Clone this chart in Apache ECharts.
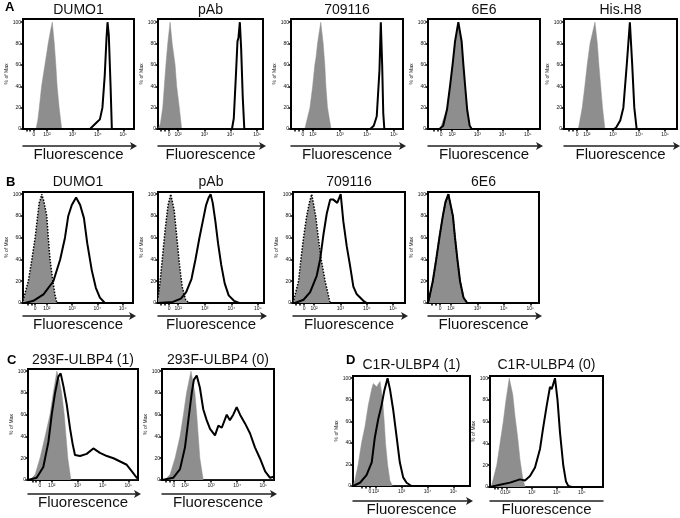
<!DOCTYPE html>
<html><head><meta charset="utf-8">
<script src="https://cdn.jsdelivr.net/npm/echarts@6/dist/echarts.min.js"></script>
<style>html,body{margin:0;padding:0;background:#fff}#c{width:680px;height:518px}</style>
</head><body><div id="c"></div><script>
// ---------- tick labels / titles ----------
const xTickLabels = ['0', '10²', '10³', '10⁴', '10⁵'];
const xTickDecades = [2, 3, 4, 5];          // label positions (log10 units); "0" position is per plot
const yTicks = [0, 20, 40, 60, 80, 100];
const titles = ['DUMO1', 'pAb', '709116', '6E6', 'His.H8',
                'DUMO1', 'pAb', '709116', '6E6',
                '293F-ULBP4 (1)', '293F-ULBP4 (0)',
                'C1R-ULBP4 (1)', 'C1R-ULBP4 (0)'];
const panelLetters = ['A', 'B', 'C', 'D'];
const xAxisTitle = 'Fluorescence';
const yAxisTitle = '% of Max';

// ---------- data: [fluorescence (log10 display units), % of max] ----------
// Panel A
const A1_gray  = [[1.06,0],[1.57,0],[1.64,8],[1.70,20],[1.79,40],[1.92,60],[2.05,80],[2.14,92],[2.21,100],[2.29,80],[2.35,60],[2.40,40],[2.48,20],[2.58,0],[5.42,0]];
const A1_black = [[1.06,0],[3.69,0],[3.82,3],[3.95,6],[4.08,9],[4.18,20],[4.27,50],[4.34,85],[4.38,100],[4.43,88],[4.50,40],[4.55,0],[5.42,0]];
const A2_gray  = [[1.24,0],[1.33,5],[1.42,20],[1.48,40],[1.54,60],[1.61,80],[1.70,100],[1.78,80],[1.89,60],[1.95,40],[2.05,20],[2.14,0],[5.23,0]];
const A2_black = [[1.24,0],[4.05,0],[4.12,10],[4.20,50],[4.26,82],[4.30,86],[4.35,100],[4.40,75],[4.46,30],[4.52,0],[5.23,0]];
const A3_gray  = [[1.19,0],[1.70,0],[1.89,20],[1.99,40],[2.07,60],[2.12,68],[2.17,80],[2.29,100],[2.38,80],[2.44,60],[2.48,40],[2.54,20],[2.67,0],[5.33,0]];
const A3_black = [[1.19,0],[4.12,0],[4.25,3],[4.36,12],[4.46,55],[4.51,100],[4.56,60],[4.60,15],[4.64,0],[5.33,0]];
const A4_gray  = [[1.05,0],[1.53,0],[1.81,20],[1.92,40],[2.03,60],[2.12,80],[2.25,100],[2.38,80],[2.45,60],[2.51,40],[2.58,20],[2.71,0],[5.48,0]];
const A4_black = [[1.05,0],[1.50,0],[1.65,3],[1.80,18],[1.92,40],[2.03,62],[2.12,82],[2.25,100],[2.38,82],[2.45,60],[2.52,40],[2.60,18],[2.70,3],[2.78,0],[5.48,0]];
const A5_gray  = [[1.12,0],[1.67,0],[1.82,20],[1.92,40],[2.01,60],[2.12,80],[2.31,100],[2.40,80],[2.46,60],[2.53,40],[2.60,20],[2.69,0],[5.46,0]];
const A5_black = [[1.12,0],[3.05,0],[3.14,2],[3.28,8],[3.40,20],[3.53,60],[3.65,100],[3.74,60],[3.82,20],[3.91,0],[5.46,0]];
// Panel B
const B1_gray  = [[1.06,2],[1.27,20],[1.41,40],[1.54,60],[1.64,80],[1.70,92],[1.76,96],[1.80,100],[1.88,94],[2.00,80],[2.06,60],[2.13,40],[2.24,20],[2.32,8],[2.40,0],[5.41,0]];
const B1_black = [[1.06,0],[1.14,0],[1.47,2],[1.87,8],[2.26,20],[2.53,40],[2.72,60],[2.85,80],[2.99,90],[3.16,97],[3.32,90],[3.47,78],[3.60,55],[3.78,30],[3.94,14],[4.10,5],[4.30,0],[5.41,0]];
const B2_gray  = [[1.24,5],[1.32,20],[1.42,45],[1.52,70],[1.62,90],[1.72,100],[1.85,85],[1.95,60],[2.05,35],[2.15,15],[2.28,3],[2.40,0],[5.23,0]];
const B2_black = [[1.24,0],[1.80,1],[2.10,4],[2.30,10],[2.50,22],[2.65,40],[2.80,60],[2.95,78],[3.05,90],[3.15,97],[3.22,100],[3.30,92],[3.40,75],[3.50,55],[3.62,35],[3.75,18],[3.90,7],[4.10,2],[4.30,0],[5.23,0]];
const B3_gray  = [[1.20,0],[1.41,20],[1.50,40],[1.60,60],[1.72,80],[1.82,92],[1.91,100],[2.06,80],[2.16,60],[2.27,40],[2.42,20],[2.61,0],[5.45,0]];
const B3_black = [[1.20,0],[1.28,0],[1.60,3],[1.85,10],[2.10,25],[2.23,40],[2.35,62],[2.48,82],[2.61,95],[2.73,95],[2.88,92],[3.01,100],[3.11,75],[3.24,52],[3.36,35],[3.49,15],[3.62,8],[3.87,2],[4.00,0],[5.45,0]];
const B4_gray  = [[1.14,0],[1.19,5],[1.32,20],[1.45,40],[1.57,60],[1.70,80],[1.80,92],[1.91,100],[2.08,80],[2.16,60],[2.25,40],[2.35,20],[2.48,5],[2.60,0],[5.33,0]];
const B4_black = [[1.14,0],[1.19,5],[1.32,20],[1.45,40],[1.57,60],[1.70,80],[1.80,93],[1.91,100],[2.08,80],[2.16,60],[2.25,40],[2.35,20],[2.48,5],[2.62,0],[5.33,0]];
// Panel C
const C1_gray  = [[1.07,0],[1.15,0],[1.35,5],[1.54,20],[1.74,40],[1.93,60],[2.06,80],[2.20,100],[2.30,92],[2.39,80],[2.49,60],[2.56,40],[2.63,20],[2.75,0],[5.38,0]];
const C1_black = [[1.07,0],[1.10,0],[1.41,2],[1.67,12],[1.87,35],[2.00,60],[2.13,80],[2.26,95],[2.35,98],[2.46,86],[2.59,69],[2.72,47],[2.82,33],[2.91,23],[3.11,22],[3.37,24],[3.63,29],[3.89,25],[4.16,22],[4.42,20],[4.68,17],[4.94,14],[5.14,8],[5.30,3],[5.38,1]];
const C2_gray  = [[1.12,0],[1.23,0],[1.43,5],[1.62,20],[1.81,40],[1.94,60],[2.06,80],[2.23,100],[2.38,80],[2.45,60],[2.51,40],[2.57,20],[2.70,0],[5.41,0]];
const C2_black = [[1.12,0],[1.17,0],[1.55,2],[1.81,10],[2.00,30],[2.13,55],[2.26,80],[2.34,92],[2.45,96],[2.51,95],[2.57,85],[2.70,65],[2.83,55],[2.96,47],[3.15,41],[3.28,50],[3.41,48],[3.60,60],[3.72,55],[3.85,60],[3.98,67],[4.11,60],[4.30,52],[4.49,43],[4.68,30],[4.87,20],[5.07,8],[5.26,2],[5.39,3]];
// Panel D
const D1_gray  = [[1.13,0],[1.20,5],[1.33,20],[1.46,40],[1.59,55],[1.72,75],[1.85,90],[1.91,95],[2.04,92],[2.17,97],[2.27,80],[2.33,60],[2.38,40],[2.46,20],[2.55,5],[2.65,0],[5.63,0]];
const D1_black = [[1.13,0],[1.14,0],[1.40,3],[1.65,10],[1.85,22],[1.97,45],[2.10,62],[2.23,75],[2.33,88],[2.46,100],[2.55,90],[2.68,70],[2.81,45],[2.93,22],[3.06,8],[3.19,3],[3.38,0],[5.63,0]];
const D2_gray  = [[1.33,0],[1.40,2],[1.60,20],[1.73,40],[1.86,60],[1.97,80],[2.10,100],[2.24,85],[2.33,65],[2.44,45],[2.53,25],[2.64,8],[2.73,0],[5.85,0]];
const D2_black = [[1.33,0],[1.73,2],[2.13,4],[2.53,7],[2.73,6],[2.93,10],[3.13,18],[3.33,35],[3.46,55],[3.60,75],[3.73,92],[3.80,90],[3.93,100],[4.03,80],[4.13,50],[4.26,20],[4.37,5],[4.46,1],[4.60,0],[5.85,0]];

const grayData  = [A1_gray, A2_gray, A3_gray, A4_gray, A5_gray, B1_gray, B2_gray, B3_gray, B4_gray, C1_gray, C2_gray, D1_gray, D2_gray];
const blackData = [A1_black, A2_black, A3_black, A4_black, A5_black, B1_black, B2_black, B3_black, B4_black, C1_black, C2_black, D1_black, D2_black];

// ---------- layout (pixels / axis ranges) ----------
// left, top, width, height, xmin, xmax, zero-label position, ymax, arrow offset, row
const layout = [
  [23, 19, 111, 110, 1.06, 5.42, 1.49, 103, 17, 0],
  [158, 19, 105, 110, 1.24, 5.23, 1.66, 103, 17, 0],
  [291, 19, 112, 110, 1.19, 5.33, 1.63, 103, 17, 0],
  [428, 19, 112, 110, 1.05, 5.48, 1.57, 103, 17, 0],
  [564, 19, 113, 110, 1.12, 5.46, 1.62, 103, 17, 0],
  [23, 192, 110, 111, 1.06, 5.41, 1.54, 102, 13, 1],
  [158, 192, 106, 111, 1.24, 5.23, 1.66, 102, 13, 1],
  [293, 192, 112, 111, 1.20, 5.45, 1.62, 102, 13, 1],
  [428, 192, 111, 111, 1.14, 5.33, 1.60, 102, 13, 1],
  [28, 369, 110, 111, 1.07, 5.38, 1.54, 102, 14, 2],
  [162, 369, 112, 111, 1.12, 5.41, 1.58, 102, 14, 2],
  [353, 376, 117, 111, 1.13, 5.63, 1.78, 102, 15, 3],
  [490, 376, 113, 111, 1.33, 5.85, 1.80, 102, 14, 3]
];
const dottedGray = [false, false, false, false, false, true, true, true, true, false, false, false, false];
const arrowHead  = [true, true, true, true, true, true, true, true, true, true, true, true, false];
const titleY  = [10, 182, 360, 365];
const letterPos = [[5, 7], [6, 182], [7, 360], [346, 360]];

const FONT = 'Liberation Sans, Arial, Helvetica, sans-serif';
const GRAY = '#8e8e8e';

const supMap = {2: '10²', 3: '10³', 4: '10⁴', 5: '10⁵'};

const grids = [], xAxes = [], arrowAxes = [], yAxes = [], series = [], title = [];
const n = layout.length;
layout.forEach((L, i) => {
  const [left, top, width, height, xmin, xmax, zero, ymax, arrowOff, row] = L;
  grids.push({left, top, width, height, show: true, borderColor: '#000', borderWidth: 2, containLabel: false});
  xAxes.push({
    gridIndex: i, type: 'value', min: xmin, max: xmax,
    axisLine: {show: true, onZero: false, lineStyle: {color: '#000', width: 2}},
    axisTick: {show: true, inside: false, length: 2.5, customValues: [zero - 0.3, zero - 0.15, zero].concat(xTickDecades), lineStyle: {color: '#000', width: 1.5}},
    axisLabel: {show: true, customValues: [zero].concat(xTickDecades), fontSize: 5, margin: 3, color: '#111', fontFamily: FONT,
      formatter: v => (Math.abs(v - zero) < 1e-6 ? xTickLabels[0] : xTickLabels[xTickDecades.indexOf(Math.round(v)) + 1])},
    splitLine: {show: false}
  });
  arrowAxes.push({
    gridIndex: i, type: 'value', min: xmin, max: xmax, position: 'bottom', offset: arrowOff,
    axisLine: {show: true, onZero: false, lineStyle: {color: '#222', width: 1.5},
      symbol: arrowHead[i] ? ['none', 'arrow'] : ['none', 'none'], symbolSize: [6, 7], symbolOffset: [0, 3]},
    axisTick: {show: false}, axisLabel: {show: false}, splitLine: {show: false},
    name: xAxisTitle, nameLocation: 'middle', nameGap: 1,
    nameTextStyle: {fontSize: 15, color: '#111', fontFamily: FONT, verticalAlign: 'top'}
  });
  yAxes.push({
    gridIndex: i, type: 'value', min: 0, max: ymax,
    axisLine: {show: true, lineStyle: {color: '#000', width: 2}},
    axisTick: {show: true, length: 2.5, customValues: yTicks, lineStyle: {color: '#000', width: 1.5}},
    axisLabel: {show: true, customValues: yTicks, fontSize: 5, margin: 2, color: '#111', fontFamily: FONT},
    splitLine: {show: false},
    name: yAxisTitle, nameLocation: 'middle', nameGap: 10,
    nameTextStyle: {fontSize: 5, color: '#111', fontFamily: FONT}
  });
  series.push({
    type: 'line', xAxisIndex: i, yAxisIndex: i, data: grayData[i], symbol: 'none', silent: true, z: 2,
    lineStyle: dottedGray[i] ? {color: '#000', width: 1.5, type: 'dotted'} : {color: GRAY, width: 0.5},
    areaStyle: {color: GRAY, opacity: 1}
  });
  series.push({
    type: 'line', xAxisIndex: i, yAxisIndex: i, data: blackData[i], symbol: 'none', silent: true, z: 3,
    lineStyle: {color: '#000', width: 2}
  });
  title.push({
    text: titles[i], left: left + width / 2, top: titleY[row], textAlign: 'center', textVerticalAlign: 'middle',
    textStyle: {fontSize: 14, fontWeight: 'normal', color: '#111', fontFamily: FONT}, padding: 0
  });
});
panelLetters.forEach((t, k) => {
  title.push({text: t, left: letterPos[k][0], top: letterPos[k][1], textVerticalAlign: 'middle', padding: 0,
    textStyle: {fontSize: 13, fontWeight: 'bold', color: '#000', fontFamily: FONT}});
});

const chart = echarts.init(document.getElementById('c'), null, {renderer: 'canvas'});
chart.setOption({
  animation: false,
  backgroundColor: '#fff',
  title,
  grid: grids,
  xAxis: xAxes.concat(arrowAxes),
  yAxis: yAxes,
  series
});
</script></body></html>
